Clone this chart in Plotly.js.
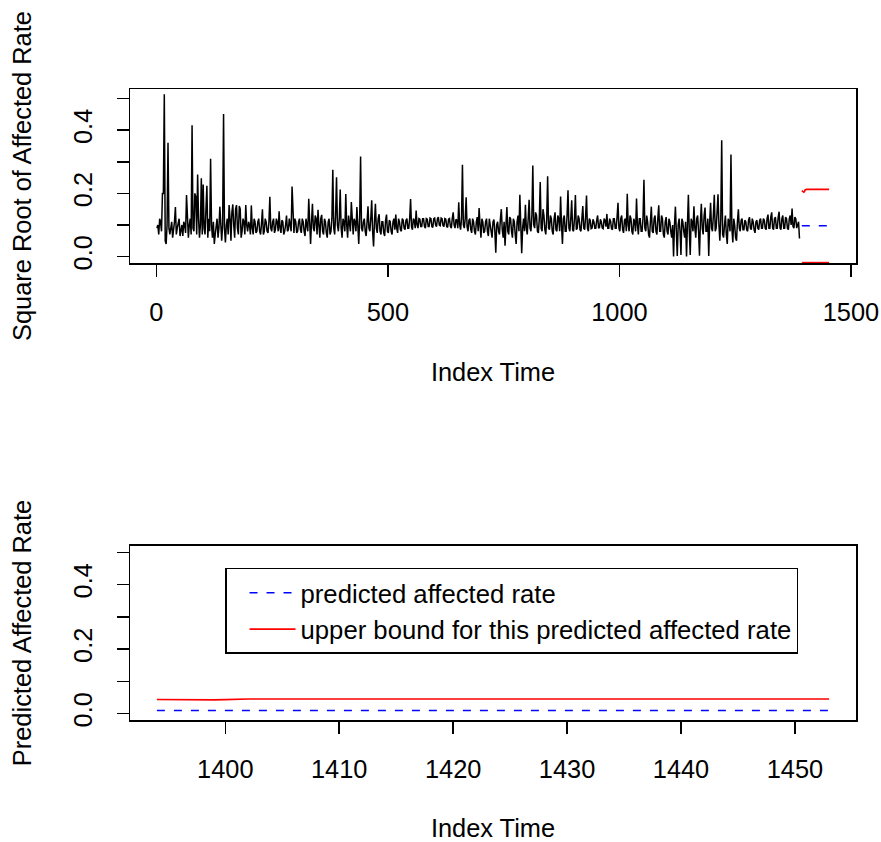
<!DOCTYPE html>
<html><head><meta charset="utf-8">
<script src="https://cdn.plot.ly/plotly-3.0.1.min.js"></script>
<style>html,body{margin:0;padding:0;background:#fff;}#chart{width:881px;height:842px;}</style>
</head><body><div id="chart"></div>
<script>
// Observed series: square root of affected rate, read every 2nd index time (1, 3, 5, ... 1389)
const seriesStart = 1;
const seriesStep = 2;
const sqrtRate = [
 0.09,0.1,0.07,0.12,0.11,0.08,0.2,0.2,0.514,0.05,0.04,0.1,0.36,0.09,0.07,0.1,0.11,0.06,0.08,0.11,0.157,0.07,0.09,0.11,0.12,0.065,0.08,0.1,0.065,0.11,0.1,0.075,0.195,0.09,0.06,0.1,0.12,0.07,0.416,0.09,0.08,0.2,0.19,0.07,0.26,0.12,0.06,0.1,0.248,0.07,
 0.228,0.09,0.07,0.15,0.224,0.06,0.12,0.08,0.31,0.1,0.06,0.11,0.04,0.07,0.1,0.12,0.06,0.09,0.158,0.1,0.05,0.1,0.451,0.09,0.045,0.1,0.12,0.07,0.163,0.12,0.05,0.14,0.165,0.1,0.06,0.15,0.163,0.09,0.07,0.16,0.15,0.06,0.08,0.12,0.11,0.07,0.163,0.1,0.08,0.11,
 0.1,0.07,0.162,0.09,0.07,0.12,0.11,0.075,0.08,0.11,0.12,0.08,0.07,0.105,0.15,0.07,0.08,0.12,0.11,0.08,0.075,0.11,0.189,0.09,0.08,0.11,0.12,0.075,0.085,0.12,0.11,0.08,0.143,0.09,0.075,0.115,0.11,0.07,0.08,0.1,0.13,0.08,0.085,0.12,0.1,0.08,0.222,0.1,0.075,0.12,
 0.11,0.075,0.08,0.11,0.12,0.085,0.075,0.12,0.11,0.08,0.065,0.12,0.1,0.08,0.183,0.1,0.04,0.11,0.167,0.09,0.08,0.13,0.12,0.07,0.148,0.1,0.06,0.12,0.132,0.08,0.07,0.12,0.11,0.075,0.06,0.11,0.12,0.07,0.08,0.12,0.275,0.09,0.07,0.13,0.251,0.1,0.08,0.12,0.212,0.09,
 0.06,0.12,0.11,0.08,0.198,0.1,0.06,0.13,0.1,0.08,0.173,0.11,0.07,0.12,0.11,0.08,0.157,0.1,0.04,0.12,0.317,0.09,0.08,0.11,0.12,0.08,0.065,0.11,0.159,0.09,0.08,0.12,0.178,0.08,0.032,0.11,0.167,0.09,0.075,0.12,0.134,0.08,0.07,0.11,0.11,0.075,0.065,0.115,0.133,0.08,
 0.075,0.115,0.11,0.08,0.07,0.11,0.12,0.085,0.133,0.09,0.075,0.12,0.11,0.085,0.08,0.12,0.115,0.09,0.085,0.115,0.12,0.09,0.09,0.12,0.182,0.095,0.085,0.12,0.115,0.09,0.146,0.1,0.09,0.12,0.118,0.095,0.095,0.12,0.12,0.095,0.09,0.12,0.118,0.095,0.095,0.122,0.12,0.095,0.092,0.12,
 0.122,0.1,0.095,0.12,0.125,0.1,0.098,0.122,0.12,0.098,0.095,0.12,0.118,0.095,0.092,0.118,0.12,0.095,0.09,0.12,0.14,0.1,0.09,0.118,0.115,0.09,0.172,0.1,0.085,0.12,0.291,0.1,0.09,0.12,0.188,0.095,0.08,0.115,0.12,0.085,0.075,0.12,0.11,0.08,0.07,0.11,0.125,0.08,0.154,0.1,
 0.06,0.12,0.11,0.075,0.08,0.11,0.12,0.08,0.065,0.12,0.1,0.07,0.06,0.11,0.117,0.08,0.012,0.1,0.11,0.08,0.07,0.12,0.15,0.085,0.06,0.11,0.034,0.1,0.157,0.08,0.07,0.125,0.12,0.08,0.06,0.12,0.11,0.07,0.04,0.11,0.13,0.08,0.196,0.1,0.011,0.09,0.12,0.08,0.164,0.09,
 0.07,0.12,0.18,0.09,0.08,0.13,0.288,0.1,0.09,0.14,0.13,0.08,0.075,0.12,0.236,0.09,0.08,0.15,0.13,0.085,0.07,0.12,0.254,0.09,0.085,0.13,0.12,0.08,0.07,0.12,0.14,0.085,0.08,0.13,0.12,0.08,0.19,0.1,0.04,0.12,0.13,0.08,0.08,0.13,0.21,0.09,0.08,0.12,0.178,0.085,
 0.08,0.12,0.195,0.085,0.09,0.13,0.12,0.085,0.08,0.12,0.16,0.09,0.085,0.125,0.193,0.09,0.08,0.12,0.115,0.088,0.09,0.118,0.11,0.09,0.09,0.115,0.13,0.09,0.092,0.118,0.11,0.09,0.088,0.12,0.115,0.095,0.135,0.09,0.09,0.12,0.112,0.088,0.085,0.12,0.12,0.09,0.09,0.125,0.17,0.09,
 0.08,0.12,0.13,0.085,0.075,0.115,0.12,0.08,0.199,0.1,0.08,0.13,0.12,0.08,0.07,0.12,0.11,0.08,0.184,0.1,0.07,0.12,0.12,0.08,0.08,0.12,0.243,0.09,0.08,0.13,0.11,0.07,0.06,0.11,0.158,0.08,0.075,0.12,0.13,0.08,0.07,0.12,0.162,0.08,0.08,0.13,0.12,0.07,0.06,0.11,
 0.125,0.08,0.07,0.12,0.11,0.08,0.06,0.1,0.0,0.1,0.158,0.08,0.002,0.1,0.12,0.08,0.005,0.12,0.11,0.08,0.06,0.11,0.0,0.1,0.196,0.08,0.005,0.12,0.11,0.08,0.159,0.09,0.06,0.12,0.13,0.08,0.003,0.11,0.167,0.09,0.07,0.13,0.155,0.08,0.08,0.12,0.002,0.11,0.17,0.09,
 0.08,0.13,0.196,0.08,0.09,0.14,0.197,0.1,0.05,0.12,0.368,0.07,0.06,0.1,0.13,0.07,0.04,0.12,0.11,0.08,0.323,0.09,0.045,0.12,0.1,0.06,0.05,0.11,0.15,0.09,0.08,0.115,0.12,0.085,0.085,0.115,0.11,0.085,0.08,0.115,0.125,0.09,0.085,0.12,0.11,0.085,0.075,0.11,0.115,0.09,
 0.085,0.115,0.12,0.09,0.09,0.12,0.115,0.09,0.085,0.12,0.133,0.09,0.09,0.125,0.14,0.09,0.085,0.12,0.125,0.09,0.09,0.125,0.142,0.09,0.085,0.12,0.13,0.09,0.09,0.125,0.12,0.09,0.085,0.12,0.13,0.1,0.152,0.095,0.09,0.125,0.12,0.09,0.1,0.11,0.057
];

// Forecast horizon: index times 1394 .. 1453
const forecastStart = 1394;
const forecastLength = 60;

// Square-root scale forecast (top panel)
const sqrtPredicted = [
 0.0975,0.0975,0.0975,0.0975,0.0975,0.0975,0.0975,0.0975,0.0975,0.0975,
 0.0975,0.0975,0.0975,0.0975,0.0975,0.0975,0.0975,0.0975,0.0975,0.0975,
 0.0975,0.0975,0.0975,0.0975,0.0975,0.0975,0.0975,0.0975,0.0975,0.0975,
 0.0975,0.0975,0.0975,0.0975,0.0975,0.0975,0.0975,0.0975,0.0975,0.0975,
 0.0975,0.0975,0.0975,0.0975,0.0975,0.0975,0.0975,0.0975,0.0975,0.0975,
 0.0975,0.0975,0.0975,0.0975,0.0975,0.0975,0.0975,0.0975,0.0975,0.0975
];
const sqrtUpper = [
 0.209,0.207,0.2045,0.204,0.204,0.2045,0.206,0.211,0.2126,0.2126,
 0.2126,0.2126,0.2126,0.2126,0.2126,0.2126,0.2126,0.2126,0.2126,0.2126,
 0.2126,0.2126,0.2126,0.2126,0.2126,0.2126,0.2126,0.2126,0.2126,0.2126,
 0.2126,0.2126,0.2126,0.2126,0.2126,0.2126,0.2126,0.2126,0.2126,0.2126,
 0.2126,0.2126,0.2126,0.2126,0.2126,0.2126,0.2126,0.2126,0.2126,0.2126,
 0.2126,0.2126,0.2126,0.2126,0.2126,0.2126,0.2126,0.2126,0.2126,0.2126
];
const sqrtLower = [
 -0.019,-0.019,-0.019,-0.019,-0.019,-0.019,-0.019,-0.019,-0.019,-0.019,
 -0.019,-0.019,-0.019,-0.019,-0.019,-0.019,-0.019,-0.019,-0.019,-0.019,
 -0.019,-0.019,-0.019,-0.019,-0.019,-0.019,-0.019,-0.019,-0.019,-0.019,
 -0.019,-0.019,-0.019,-0.019,-0.019,-0.019,-0.019,-0.019,-0.019,-0.019,
 -0.019,-0.019,-0.019,-0.019,-0.019,-0.019,-0.019,-0.019,-0.019,-0.019,
 -0.019,-0.019,-0.019,-0.019,-0.019,-0.019,-0.019,-0.019,-0.019,-0.019
];

// Predicted affected rate (bottom panel)
const predictedRate = [
 0.0094,0.0094,0.0094,0.0094,0.0094,0.0094,0.0094,0.0094,0.0094,0.0094,
 0.0094,0.0094,0.0094,0.0094,0.0094,0.0094,0.0094,0.0094,0.0094,0.0094,
 0.0094,0.0094,0.0094,0.0094,0.0094,0.0094,0.0094,0.0094,0.0094,0.0094,
 0.0094,0.0094,0.0094,0.0094,0.0094,0.0094,0.0094,0.0094,0.0094,0.0094,
 0.0094,0.0094,0.0094,0.0094,0.0094,0.0094,0.0094,0.0094,0.0094,0.0094,
 0.0094,0.0094,0.0094,0.0094,0.0094,0.0094,0.0094,0.0094,0.0094,0.0094
];
const upperRate = [
 0.0437,0.0432,0.0425,0.0422,0.0422,0.0424,0.0432,0.0448,0.0452,0.0452,
 0.0452,0.0452,0.0452,0.0452,0.0452,0.0452,0.0452,0.0452,0.0452,0.0452,
 0.0452,0.0452,0.0452,0.0452,0.0452,0.0452,0.0452,0.0452,0.0452,0.0452,
 0.0452,0.0452,0.0452,0.0452,0.0452,0.0452,0.0452,0.0452,0.0452,0.0452,
 0.0452,0.0452,0.0452,0.0452,0.0452,0.0452,0.0452,0.0452,0.0452,0.0452,
 0.0452,0.0452,0.0452,0.0452,0.0452,0.0452,0.0452,0.0452,0.0452,0.0452
];

// Tick labels
const topXTicks = [0, 500, 1000, 1500];
const topXTickText = ['0', '500', '1000', '1500'];
const yTicks = [0, 0.1, 0.2, 0.3, 0.4, 0.5];
const yTickText = ['0.0', '', '0.2', '', '0.4', ''];
const bottomXTicks = [1400, 1410, 1420, 1430, 1440, 1450];
const bottomXTickText = ['1400', '1410', '1420', '1430', '1440', '1450'];

const seriesTime = sqrtRate.map((_, i) => seriesStart + i * seriesStep);
const forecastTime = [];
for (let i = 0; i < forecastLength; i++) forecastTime.push(forecastStart + i);

const FAMILY = 'Liberation Sans, Arial, Helvetica, sans-serif';
const FONT = {family: FAMILY, size: 25.4, color: '#000'};
const LEGEND_FONT = {family: FAMILY, size: 25.7, color: '#000'};
const BLUE = '#0000FF', RED = '#FF0000';
const DASH = '8px,9px';

const traces = [
  {x: seriesTime, y: sqrtRate, xaxis: 'x', yaxis: 'y', type: 'scatter', mode: 'lines',
   line: {color: '#000', width: 1.5}, showlegend: false, name: 'sqrt affected rate'},
  {x: forecastTime, y: sqrtPredicted, xaxis: 'x', yaxis: 'y', type: 'scatter', mode: 'lines',
   line: {color: BLUE, width: 1.6, dash: DASH}, showlegend: false, name: 'predicted (sqrt)'},
  {x: forecastTime, y: sqrtUpper, xaxis: 'x', yaxis: 'y', type: 'scatter', mode: 'lines',
   line: {color: RED, width: 1.6}, showlegend: false, name: 'upper (sqrt)'},
  {x: forecastTime, y: sqrtLower, xaxis: 'x', yaxis: 'y', type: 'scatter', mode: 'lines',
   line: {color: RED, width: 1.6}, showlegend: false, name: 'lower (sqrt)'},
  {x: forecastTime, y: predictedRate, xaxis: 'x2', yaxis: 'y2', type: 'scatter', mode: 'lines',
   line: {color: BLUE, width: 1.6, dash: DASH}, name: 'predicted affected rate'},
  {x: forecastTime, y: upperRate, xaxis: 'x2', yaxis: 'y2', type: 'scatter', mode: 'lines',
   line: {color: RED, width: 1.6}, name: 'upper bound for this predicted affected rate'}
];

const axisBase = {
  showline: true, mirror: true, linecolor: '#000', linewidth: 1.5,
  ticks: 'outside', ticklen: 12, tickwidth: 1.5, tickcolor: '#000',
  showgrid: false, zeroline: false, tickfont: FONT, automargin: false,
  fixedrange: true
};

const layout = {
  width: 881, height: 842,
  margin: {l: 130, r: 25, t: 89, b: 122},
  paper_bgcolor: '#fff', plot_bgcolor: '#fff',
  font: FONT,
  showlegend: true,
  xaxis: Object.assign({}, axisBase, {
    domain: [0, 1], anchor: 'y', range: [-57.08, 1511.08],
    tickmode: 'array', tickvals: topXTicks, ticktext: topXTickText,
    ticklabelstandoff: 14,
    title: {text: 'Index Time', font: FONT, standoff: 38}
  }),
  yaxis: Object.assign({}, axisBase, {
    domain: [0.7242, 1], anchor: 'x', range: [-0.0204, 0.5304],
    tickmode: 'array', tickvals: yTicks, ticktext: yTickText, tickangle: -90,
    ticklabelstandoff: 14,
    title: {text: 'Square Root of Affected Rate', font: FONT, standoff: 30}
  }),
  xaxis2: Object.assign({}, axisBase, {
    domain: [0, 1], anchor: 'y2', range: [1391.64, 1455.36],
    tickmode: 'array', tickvals: bottomXTicks, ticktext: bottomXTickText,
    ticklabelstandoff: 14,
    title: {text: 'Index Time', font: FONT, standoff: 38}
  }),
  yaxis2: Object.assign({}, axisBase, {
    domain: [0, 0.2758], anchor: 'x2', range: [-0.02, 0.52],
    tickmode: 'array', tickvals: yTicks, ticktext: yTickText, tickangle: -90,
    ticklabelstandoff: 14,
    title: {text: 'Predicted Affected Rate', font: FONT, standoff: 30}
  }),
  legend: {
    x: 0.1309, y: 0.2409, xanchor: 'left', yanchor: 'top',
    bordercolor: '#000', borderwidth: 1.5, bgcolor: '#fff', font: LEGEND_FONT,
    tracegroupgap: 0, itemwidth: 46, indentation: 18
  }
};

Plotly.newPlot('chart', traces, layout, {staticPlot: true, displayModeBar: false});
</script>
</body></html>
